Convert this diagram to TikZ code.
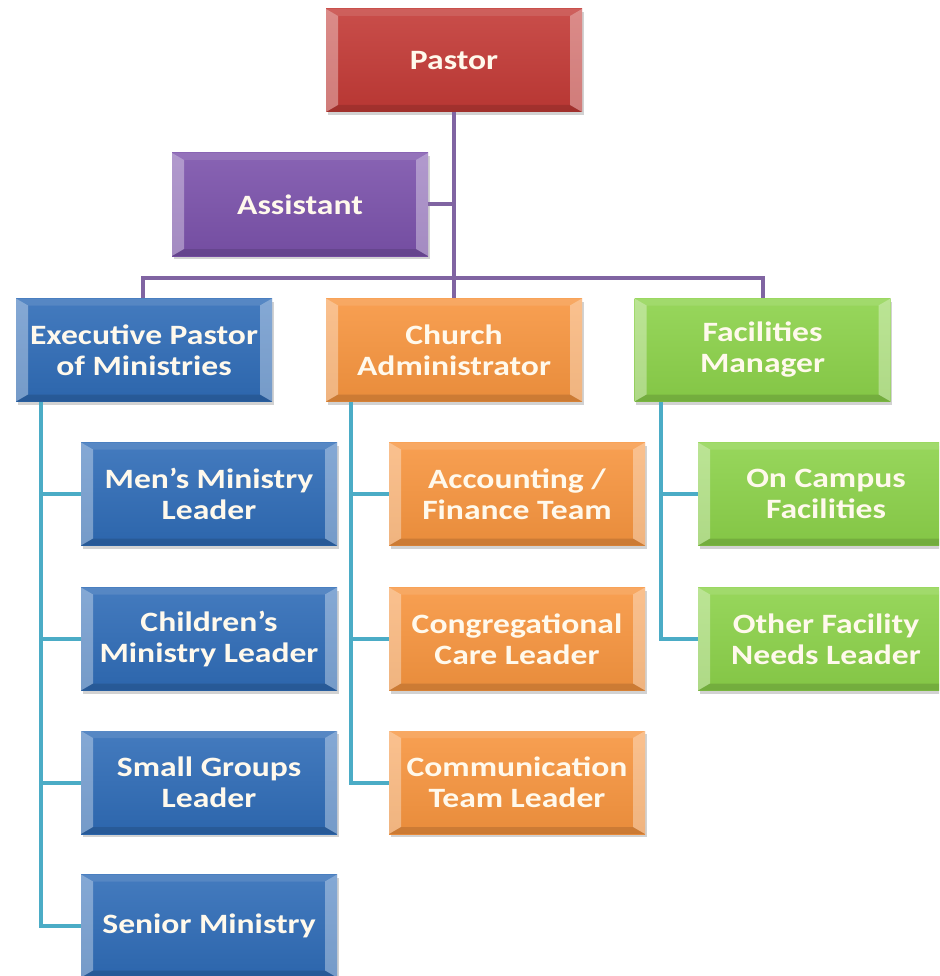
\documentclass[tikz,border=0pt]{standalone}
\usepackage{fontspec}
\setmainfont{Carlito}[FakeStretch=1.2]
\usetikzlibrary{shadows}
\definecolor{cRed}{HTML}{C33A36}
\definecolor{cPurple}{HTML}{7B52AB}
\definecolor{cBlue}{HTML}{2F6CB7}
\definecolor{cOrange}{HTML}{F7953F}
\definecolor{cGreen}{HTML}{8CD24A}
\definecolor{cLinePurple}{HTML}{8064A2}
\definecolor{cLineBlue}{HTML}{4BACC6}
\definecolor{cText}{HTML}{FFF9EC}
\tikzset{
  orgbox/.style={minimum width=256pt, minimum height=103pt, inner sep=0pt, align=center,
    text=cText, font=\fontsize{28}{31}\selectfont\bfseries,
    top color=#1!90!white, bottom color=#1!94!black,
    drop shadow={opacity=0.35, shadow xshift=1.5pt, shadow yshift=-3pt},
    path picture={
      \fill[white, opacity=0.35] (path picture bounding box.north west) -- ++(12pt,-7pt)
        -- ([xshift=12pt,yshift=7pt]path picture bounding box.south west)
        -- (path picture bounding box.south west) -- cycle;
      \fill[white, opacity=0.35] (path picture bounding box.north east) -- ++(-12pt,-7pt)
        -- ([xshift=-12pt,yshift=7pt]path picture bounding box.south east)
        -- (path picture bounding box.south east) -- cycle;
      \fill[white, opacity=0.10] (path picture bounding box.north west) -- ++(12pt,-7pt)
        -- ([xshift=-12pt,yshift=-7pt]path picture bounding box.north east)
        -- (path picture bounding box.north east) -- cycle;
      \fill[black, opacity=0.12] (path picture bounding box.south west) -- ++(12pt,7pt)
        -- ([xshift=-12pt,yshift=7pt]path picture bounding box.south east)
        -- (path picture bounding box.south east) -- cycle;
    }},
  purpleline/.style={draw=cLinePurple, line width=4pt},
  blueline/.style={draw=cLineBlue, line width=4pt},
}
\begin{document}
\begin{tikzpicture}[x=1pt, y=-1pt]
\useasboundingbox[fill=white] (0,0) rectangle (939,976);
\clip (0,0) rectangle (939,976);
\coordinate (hl) at (143,278);
\coordinate (hr) at (763,278);
\coordinate (ex) at (41,402);
\coordinate (cx) at (351,402);
\coordinate (fx) at (661,402);
% nodes
\node[orgbox=cRed]    (pastor)    at (454,60.5)  {Pastor};
\node[orgbox=cPurple] (assistant) at (300,204.5) {Assistant};
\node[orgbox=cBlue]   (exec)      at (144,350)   {Executive Pastor\\of Ministries};
\node[orgbox=cOrange] (church)    at (454,350)   {Church\\Administrator};
\node[orgbox=cGreen]  (fac)       at (762.5,350) {Facilities\\Manager};
\node[orgbox=cBlue]   (men)       at (209,494)   {Men’s Ministry\\Leader};
\node[orgbox=cBlue]   (children)  at (209,639)   {Children’s\\Ministry Leader};
\node[orgbox=cBlue]   (small)     at (209,782.5) {Small Groups\\Leader};
\node[orgbox=cBlue]   (senior)    at (209,926)   {Senior Ministry};
\node[orgbox=cOrange] (acc)       at (517,494)   {Accounting /\\Finance Team};
\node[orgbox=cOrange] (cong)      at (517,639)   {Congregational\\Care Leader};
\node[orgbox=cOrange] (comm)      at (517,782.5) {Communication\\Team Leader};
\node[orgbox=cGreen]  (oncampus)  at (826,494)   {On Campus\\Facilities};
\node[orgbox=cGreen]  (other)     at (826,639)   {Other Facility\\Needs Leader};
% connectors
\draw[purpleline] (pastor.south) -- (church.north);
\draw[purpleline] (assistant.east) -- (assistant.east -| pastor.south);
\draw[purpleline] (exec.north -| hl) -- (hl) -- (hr) -- (fac.north -| hr);
\draw[blueline] (ex) |- (men.west);
\draw[blueline] (ex) |- (children.west);
\draw[blueline] (ex) |- (small.west);
\draw[blueline] (ex) |- (senior.west);
\draw[blueline] (cx) |- (acc.west);
\draw[blueline] (cx) |- (cong.west);
\draw[blueline] (cx) |- (comm.west);
\draw[blueline] (fx) |- (oncampus.west);
\draw[blueline] (fx) |- (other.west);
\end{tikzpicture}
\end{document}
